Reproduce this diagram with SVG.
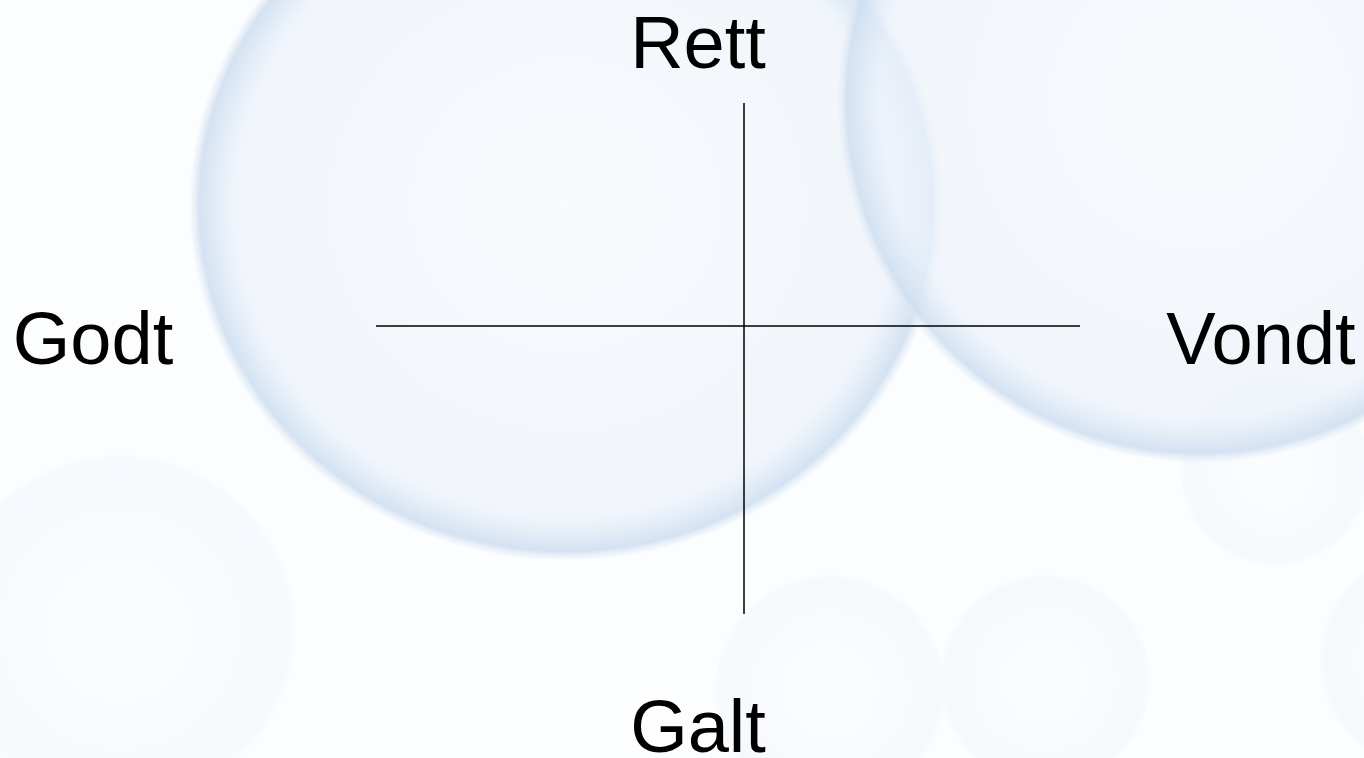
<svg xmlns="http://www.w3.org/2000/svg" width="1364" height="758" viewBox="0 0 1364 758">
<defs>
<radialGradient id="bub" cx="0.5" cy="0.5" r="0.5">
<stop offset="0" stop-color="#f3f6fc" stop-opacity="0.5"/>
<stop offset="0.88" stop-color="#ecf2fa" stop-opacity="0.7"/>
<stop offset="0.975" stop-color="#cfdff1" stop-opacity="0.9"/>
<stop offset="1" stop-color="#e4ecf7" stop-opacity="0.2"/>
</radialGradient>
<radialGradient id="faint" cx="0.5" cy="0.5" r="0.5">
<stop offset="0" stop-color="#fafcfe" stop-opacity="0.3"/>
<stop offset="0.92" stop-color="#f1f5fb" stop-opacity="0.6"/>
<stop offset="1" stop-color="#ecf2f9" stop-opacity="0.2"/>
</radialGradient>
<style>
.lbl{font-family:"Liberation Sans",Arial,sans-serif;font-size:74px;fill:#000;text-anchor:middle}
.ax{stroke:#000;stroke-width:1.5;fill:none}
</style>
</defs>
<rect width="1364" height="758" fill="#fcfdfe"/>
<g id="background">
<circle cx="120" cy="630" r="175" fill="url(#faint)"/>
<circle cx="830" cy="690" r="115" fill="url(#faint)"/>
<circle cx="1045" cy="680" r="105" fill="url(#faint)"/>
<circle cx="1275" cy="470" r="95" fill="url(#faint)"/>
<circle cx="1430" cy="660" r="110" fill="url(#faint)"/>
<ellipse cx="566" cy="205" rx="376" ry="355" fill="url(#bub)"/>
<circle cx="1200" cy="100" r="362" fill="url(#bub)"/>
</g>
<g id="connectors">
<line class="ax" x1="744" y1="103" x2="744" y2="614"/>
<line class="ax" x1="376" y1="326" x2="1080" y2="326"/>
</g>
<g id="rett"><text class="lbl" x="698" y="68">Rett</text></g>
<g id="galt"><text class="lbl" x="698" y="752">Galt</text></g>
<g id="godt"><text class="lbl" x="93" y="364">Godt</text></g>
<g id="vondt"><text class="lbl" x="1261" y="364">Vondt</text></g>
</svg>
